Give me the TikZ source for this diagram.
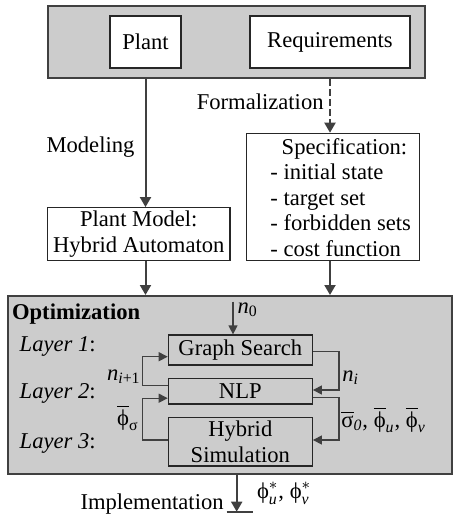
\documentclass[tikz,border=0pt]{standalone}
\usepackage{amsmath}
\usepackage{fontspec}
\setmainfont{Liberation Serif}
\usetikzlibrary{calc, positioning}
\usetikzlibrary{arrows.meta}

\definecolor{panelgray}{RGB}{204,204,204}
\definecolor{linegray}{RGB}{64,64,64}

\tikzset{
  panel/.style={draw=linegray, line width=1pt, fill=panelgray, inner sep=0pt},
  block/.style={draw=black!85, line width=0.6pt, fill=white, inner sep=0pt, align=center},
  inner/.style={draw=black!85, line width=0.6pt, inner sep=0pt, align=center},
  flow/.style={draw=linegray, line width=1pt, -{Triangle[length=5pt,width=5.5pt]}},
  fb/.style={draw=linegray, line width=0.6pt, -{Triangle[length=4.5pt,width=4.5pt]}},
}

\begin{document}
\fontsize{11.3}{12.7}\selectfont
\begin{tikzpicture}[x=0.5pt, y=-0.5pt]
\useasboundingbox (0,0) rectangle (453,525);

\node[panel, minimum width=188.7pt, minimum height=36pt] (top) at (236.3,42) {};
\node[block, minimum width=35.5pt, minimum height=26pt] (plant) at (145.5,42) {Plant};
\node[block, minimum width=80pt, minimum height=26pt] (req) at (330,42) {Requirements};

\node[block, minimum width=91.2pt, minimum height=26.5pt] (model) at (138.8,234.2)
  {Plant Model:\\Hybrid Automaton};
\node[block, minimum width=86.3pt, minimum height=63.7pt] (spec) at (333,197) {};
\node[anchor=west, inner sep=0pt, align=left] (spectext) at (270,197.5)
  {\hspace*{0.5em}Specification:\\- initial state\\- target set\\- forbidden sets\\- cost function};

\node[panel, minimum width=221.7pt, minimum height=89pt] (opt) at (230,385) {};
\node[anchor=west, inner sep=0pt, font=\bfseries] (opttitle) at (11.7,314) {Optimization};

\node[inner, minimum width=72pt, minimum height=15pt] (gs) at (240.3,350) {Graph Search};
\node[inner, minimum width=72pt, minimum height=12.8pt] (nlp) at (240.3,391.2) {NLP};
\node[inner, minimum width=72pt, minimum height=24.3pt] (hyb) at (240.3,441.7) {Hybrid\\Simulation};

\node[anchor=west, inner sep=0pt] (lay1) at (19.3,346.7) {\textit{Layer 1}:};
\node[anchor=west, inner sep=0pt] (lay2) at (19.3,393.3) {\textit{Layer 2}:};
\node[anchor=west, inner sep=0pt] (lay3) at (19.3,443.3) {\textit{Layer 3}:};

\node[anchor=center, inner sep=0pt] (modeling) at (90.5,146.7) {Modeling};
\node[anchor=east, inner sep=0pt] (formal) at (324,101.7) {Formalization};

\draw[flow] (plant.south |- top.south) -- (plant.south |- model.north);
\draw[flow, dash pattern=on 3.5pt off 1.5pt] (req.south |- top.south) -- (req.south |- spec.north);
\draw[flow] (plant.south |- model.south) -- (plant.south |- opt.north);
\draw[flow] (req.south |- spec.south) -- (req.south |- opt.north);

\coordinate (nin) at (233,301.7);
\draw[fb] (nin) -- (nin |- gs.north)
  node[pos=0.25, right, inner sep=2pt] (nzero) {$\textit{n}_{\text{0}}$};

\draw[fb] ($(nlp.west)+(0,-6)$) -- ++(-25.6,0) |- ($(gs.west)+(0,6.7)$);
\draw[fb] ($(gs.east)+(0,1.7)$) -- ++(26,0) |- ($(nlp.east)+(0,-1.2)$);
\draw[fb] ($(hyb.west)+(0,-1.7)$) -- ++(-25.6,0) |- ($(nlp.west)+(0,7)$);
\draw[fb] ($(nlp.east)+(0,6)$) -- ++(26,0) |- ($(hyb.east)+(0,-1.7)$);

\node[anchor=east, inner sep=0pt] (nnext) at (141,377) {$\textit{n}_{\textit{i}\text{+1}}$};
\node[anchor=west, inner sep=0pt] (ncur) at (342,378) {$\textit{n}_{\textit{i}}$};
\node[anchor=east, inner sep=0pt] (phisig) at (139,418) {$\overline{\text{ϕ}}_{\text{σ}}$};
\node[anchor=west, inner sep=0pt] (sigphi) at (341,420)
  {$\overline{\text{σ}}_{\textit{0}}$, $\overline{\text{ϕ}}_{\textit{u}}$, $\overline{\text{ϕ}}_{\textit{v}}$};

\coordinate (gnd) at (236.7,511.7);
\draw[flow] (gnd |- opt.south) -- (gnd);
\draw[linegray, line width=1pt] ($(gnd)+(-10,0)$) -- ($(gnd)+(16.6,0)$);
\node[anchor=east, inner sep=0pt] (impl) at (224,504) {Implementation};
\node[anchor=west, inner sep=0pt] (phistar) at (256.7,493)
  {$\text{ϕ}^{*}_{\textit{u}}$, $\text{ϕ}^{*}_{\textit{v}}$};
\end{tikzpicture}
\end{document}
